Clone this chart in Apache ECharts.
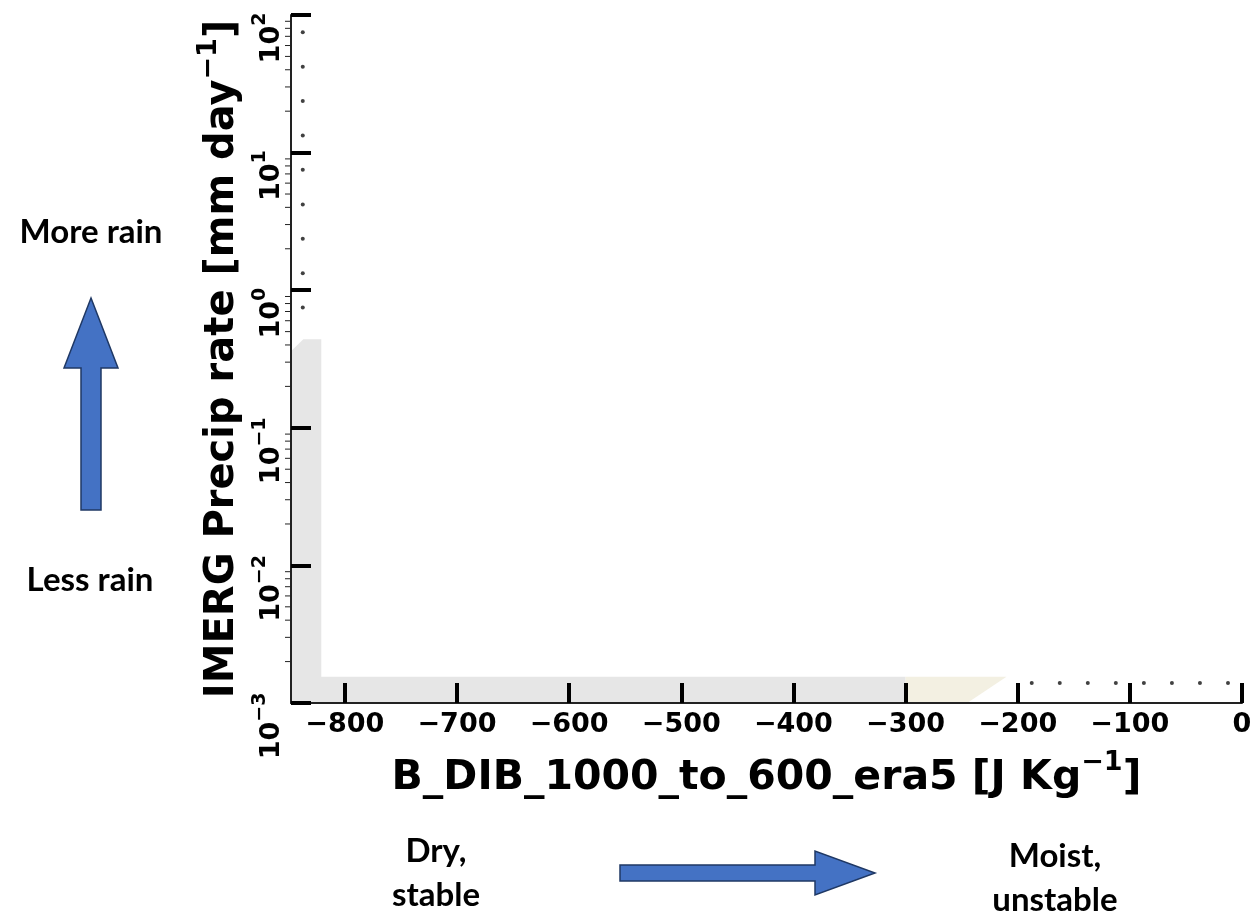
<!DOCTYPE html>
<html>
<head>
<meta charset="utf-8">
<script src="https://cdn.jsdelivr.net/npm/echarts@6/dist/echarts.min.js"></script>
<style>
html,body{margin:0;padding:0;background:#fff;}
#chart{width:1255px;height:916px;}
</style>
</head>
<body>
<div id="chart"></div>
<script>
// ---- data ----
const xMin = -848;
const xTicks = [-800, -700, -600, -500, -400, -300, -200, -100, 0];
const yDecades = [0.001, 0.01, 0.1, 1, 10, 100];
const yMinorTicks = [0.002,0.003,0.004,0.005,0.006,0.007,0.008,0.009,
  0.02,0.03,0.04,0.05,0.06,0.07,0.08,0.09,
  0.2,0.3,0.4,0.5,0.6,0.7,0.8,0.9,
  2,3,4,5,6,7,8,9,
  20,30,40,50,60,70,80,90];
// gray filled region (x in J/kg, y in mm/day)
const grayX = [-848, -837, -821, -821, -300, -300, -848];
const grayY = [0.36, 0.44, 0.44, 0.00155, 0.00155, 0.001, 0.001];
// beige filled region
const beigeX = [-300, -210, -245, -300];
const beigeY = [0.00155, 0.00155, 0.001, 0.001];
// sparse dot markers
const colDotsX = [-837.5, -837.5, -837.5, -837.5, -837.5, -837.5, -837.5, -837.5, -837.5];
const colDotsY = [75, 42, 23.7, 13.3, 7.5, 4.2, 2.37, 1.33, 0.75];
const rowDotsX = [-187.5, -162.5, -137.5, -112.5, -87.5, -62.5, -37.5, -12.5];
const rowDotsY = [0.0014, 0.0014, 0.0014, 0.0014, 0.0014, 0.0014, 0.0014, 0.0014];

const chart = echarts.init(document.getElementById('chart'), null, {renderer: 'canvas'});
const FONT = 'DejaVu Sans';

function polySeries(xs, ys, color) {
  return {
    type: 'custom',
    coordinateSystem: 'cartesian2d',
    silent: true,
    z: 1,
    data: [[xs[0], ys[0]]],
    renderItem: function (params, api) {
      const pts = xs.map((x, i) => api.coord([x, ys[i]]));
      return {type: 'polygon', shape: {points: pts}, style: {fill: color, stroke: null}};
    }
  };
}

function supMinus(n) {
  return n < 0 ? '\u2212' + Math.abs(n) : String(n);
}

const option = {
  backgroundColor: '#ffffff',
  animation: false,
  grid: {left: 291, right: 13, top: 15, bottom: 213, containLabel: false, outerBoundsMode: 'none'},
  xAxis: {
    type: 'value', min: xMin, max: 0, z: 10,
    axisLine: {show: true, onZero: false, lineStyle: {color: '#222', width: 2}},
    axisTick: {show: true, inside: true, length: 20, customValues: xTicks, lineStyle: {color: '#000', width: 4}},
    axisLabel: {
      show: true, customValues: xTicks, margin: 8,
      fontFamily: FONT, fontWeight: 'bold', fontSize: 27, color: '#000',
      formatter: v => (v < 0 ? '\u2212' + Math.abs(v) : String(v))
    },
    splitLine: {show: false},
    name: '{n|B_DIB_1000_to_600_era5 [J Kg}{s|\u22121}{n|]}',
    nameLocation: 'middle', nameGap: 46,
    nameTextStyle: {
      rich: {
        n: {fontFamily: FONT, fontWeight: 'bold', fontSize: 41, color: '#000', lineHeight: 50, verticalAlign: 'bottom'},
        s: {fontFamily: FONT, fontWeight: 'bold', fontSize: 27, color: '#000', lineHeight: 50, verticalAlign: 'top', padding: [0, 0, 16, 0]}
      }
    }
  },
  yAxis: {
    type: 'log', logBase: 10, min: 0.001, max: 100, position: 'left', offset: 0, z: 10,
    axisLine: {show: true, onZero: false, lineStyle: {color: '#222', width: 2}},
    axisTick: {show: true, inside: true, length: 20, customValues: yDecades, lineStyle: {color: '#000', width: 4}},
    axisLabel: {
      show: true, rotate: 90, margin: 6, customValues: yDecades,
      padding: [0, 46, 0, 0],
      formatter: v => '{b|10}{s|' + supMinus(Math.round(Math.log10(v))) + '}',
      rich: {
        b: {fontFamily: FONT, fontWeight: 'bold', fontSize: 27, color: '#000', lineHeight: 34, verticalAlign: 'bottom'},
        s: {fontFamily: FONT, fontWeight: 'bold', fontSize: 19, color: '#000', lineHeight: 34, verticalAlign: 'top', padding: [0, 0, 12, 0]}
      }
    },
    splitLine: {show: false},
    minorTick: {show: false},
    name: '{n|IMERG Precip rate [mm day}{s|\u22121}{n|]}',
    nameLocation: 'middle', nameGap: 45,
    nameTextStyle: {
      rich: {
        n: {fontFamily: FONT, fontWeight: 'bold', fontSize: 40, color: '#000', lineHeight: 48, verticalAlign: 'bottom'},
        s: {fontFamily: FONT, fontWeight: 'bold', fontSize: 27, color: '#000', lineHeight: 48, verticalAlign: 'top', padding: [0, 0, 15, 0]}
      }
    }
  },
  series: [
    polySeries(grayX, grayY, '#e6e6e6'),
    polySeries(beigeX, beigeY, '#f3f0e2'),
    {
      // minor log ticks, drawn outward from the left axis
      type: 'custom', coordinateSystem: 'cartesian2d', silent: true, clip: false, z: 12,
      data: yMinorTicks.map(v => [xMin, v]),
      renderItem: function (params, api) {
        const p = api.coord([api.value(0), api.value(1)]);
        return {type: 'line', shape: {x1: p[0] - 6, y1: p[1], x2: p[0], y2: p[1]}, style: {stroke: '#222', lineWidth: 1}};
      }
    },
    {
      type: 'scatter', symbol: 'circle', symbolSize: 4, z: 3,
      itemStyle: {color: '#111'},
      data: colDotsX.map((x, i) => [x, colDotsY[i]])
    },
    {
      type: 'scatter', symbol: 'circle', symbolSize: 4, z: 3,
      itemStyle: {color: '#111'},
      data: rowDotsX.map((x, i) => [x, rowDotsY[i]])
    }
  ],
  graphic: [
    {type: 'text', style: {text: 'More rain', x: 91, y: 232, align: 'center', verticalAlign: 'middle', font: 'bold 33px Lato', fill: '#000'}},
    {type: 'text', style: {text: 'Less rain', x: 90, y: 580, align: 'center', verticalAlign: 'middle', font: 'bold 33px Lato', fill: '#000'}},
    {type: 'polygon', shape: {points: [[91,298],[118,368],[101,368],[101,510],[81,510],[81,368],[64,368]]},
      style: {fill: '#4472C4', stroke: '#1F3864', lineWidth: 1.5}},
    {type: 'text', style: {text: 'Dry,\nstable', x: 436, y: 873, align: 'center', verticalAlign: 'middle', font: 'bold 33px Lato', lineHeight: 44, fill: '#000'}},
    {type: 'polygon', shape: {points: [[620,865],[815,865],[815,851],[875,873],[815,895],[815,881],[620,881]]},
      style: {fill: '#4472C4', stroke: '#1F3864', lineWidth: 1.5}},
    {type: 'text', style: {text: 'Moist,\nunstable', x: 1055, y: 878, align: 'center', verticalAlign: 'middle', font: 'bold 33px Lato', lineHeight: 44, fill: '#000'}}
  ]
};
chart.setOption(option);
</script>
</body>
</html>
